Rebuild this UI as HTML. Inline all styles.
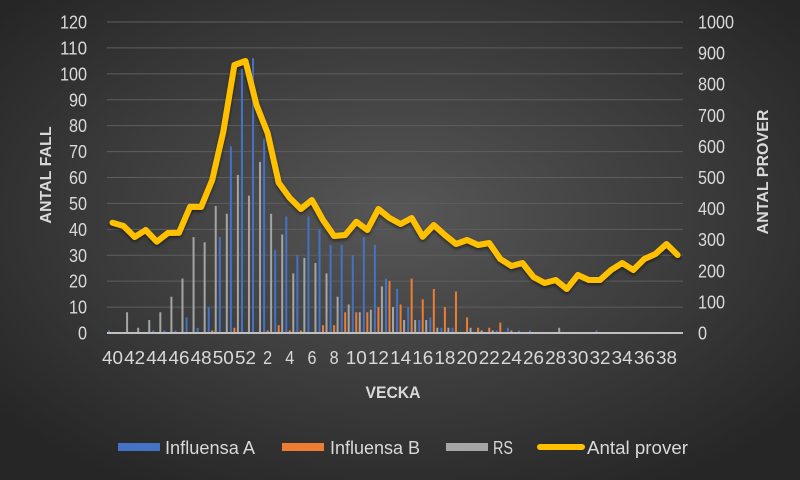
<!DOCTYPE html>
<html><head><meta charset="utf-8"><style>
html,body{margin:0;padding:0;background:#333}
svg{display:block}
text{font-family:"Liberation Sans",sans-serif;fill:#d9d9d9}
</style></head><body>
<svg id="c" width="800" height="480" xmlns="http://www.w3.org/2000/svg">
<defs>
<radialGradient id="bg" cx="50%" cy="45%" r="65%">
<stop offset="0" stop-color="#575757"/><stop offset="1" stop-color="#262626"/>
</radialGradient>
<filter id="sh" x="-5%" y="-5%" width="110%" height="120%"><feDropShadow dx="0" dy="2" stdDeviation="1.5" flood-color="#000" flood-opacity="0.5"/></filter>
</defs>
<rect width="800" height="480" fill="url(#bg)"/>
<g id="g"></g>
</svg>
<script>
var g=document.getElementById('g'),s='';
var y0=333,L=107,R=683;
function yl(v){return y0-v*311/120}
function yr(v){return y0-v*311/1000}
function tl(n){return n.length*9}
for(var v=0;v<=120;v+=10){var y=yl(v);if(v>0)s+='<line x1="'+L+'" x2="'+R+'" y1="'+y+'" y2="'+y+'" stroke="#5e5e5e" stroke-width="1"/>';
s+='<text x="87" y="'+(y+6.5)+'" font-size="18" text-anchor="end" textLength="'+tl(''+v)+'" lengthAdjust="spacingAndGlyphs">'+v+'</text>';}
for(var v=0;v<=1000;v+=100){var y=yr(v);s+='<text x="698" y="'+(y+6.5)+'" font-size="18" textLength="'+tl(''+v)+'" lengthAdjust="spacingAndGlyphs">'+v+'</text>';}
var A=[1,0,0,0,1,1,1,6,2,10,37,72,102,106,75,32,45,30,45,40,34,34,30,37,34,21,17,10,5,6,2,2,0,0,0,1,2,1,1,0,0,0,0,0,1,0,0,0,0,0,0,0];
var B=[0,0,0,0,0,0,0,0,0,1,0,2,0,0,1,3,1,1,0,3,3,8,8,8,10,20,11,21,13,17,10,16,6,2,2,4,1,0,0,0,0,0,0,0,0,0,0,0,0,0,0,0];
var C=[0,8,2,5,8,14,21,37,35,49,46,61,53,66,46,38,23,29,27,23,14,11,8,9,18,10,5,5,5,2,2,0,2,1,1,0,0,0,0,0,2,0,0,0,0,0,0,0,0,0,0,0];
var P=[222.7,226,237,230,241.7,233,232.7,206.7,207,180,131.7,65,61,105,133,182.7,198,209,200,220,236,235,221.7,230,209,218,224,218,236.7,225,235,244,240,245,243,259,266,263,277,283,280,289,275,280,280,270,263,270,259,254,244,255];
var st=11.08,c0=112.5,pts=[];
for(var i=0;i<52;i++){var c=c0+i*st;
[[A,-4.5,'#4472C4'],[B,-1,'#ED7D31'],[C,2.5,'#A5A5A5']].forEach(function(d){var v=d[0][i];if(v>0){var y=yl(v);s+='<rect x="'+(c+d[1])+'" y="'+y+'" width="2" height="'+(y0-y)+'" fill="'+d[2]+'"/>';}});
pts.push(c.toFixed(1)+','+P[i]);
var lab=null;
if(i<=12&&i%2==0)lab=''+(40+i);else if(i>12&&(i-12)%2==0)lab=''+(i-12);
if(lab){var w=lab.length==2?21:9;s+='<text x="'+c+'" y="364" font-size="18" text-anchor="middle" textLength="'+w+'" lengthAdjust="spacingAndGlyphs">'+lab+'</text>';}
}
s+='<line x1="'+L+'" x2="'+R+'" y1="'+y0+'" y2="'+y0+'" stroke="#bfbfbf" stroke-width="2"/>';
s+='<polyline points="'+pts.join(' ')+'" fill="none" stroke="#FFC000" stroke-width="6" stroke-linejoin="round" stroke-linecap="round" filter="url(#sh)"/>';
s+='<text x="393" y="398" font-size="17" font-weight="bold" text-anchor="middle" textLength="55" lengthAdjust="spacingAndGlyphs">VECKA</text>';
s+='<text transform="translate(51,175) rotate(-90)" font-size="16" font-weight="bold" text-anchor="middle">ANTAL FALL</text>';
s+='<text transform="translate(768,172) rotate(-90)" font-size="16" font-weight="bold" text-anchor="middle">ANTAL PROVER</text>';
s+='<rect x="118" y="443" width="42" height="8" fill="#4472C4"/><text x="165" y="454" font-size="18" textLength="90" lengthAdjust="spacingAndGlyphs">Influensa A</text>';
s+='<rect x="282" y="443" width="42" height="8" fill="#ED7D31"/><text x="330" y="454" font-size="18" textLength="90" lengthAdjust="spacingAndGlyphs">Influensa B</text>';
s+='<rect x="446" y="443" width="42" height="8" fill="#A5A5A5"/><text x="493" y="454" font-size="18" textLength="20" lengthAdjust="spacingAndGlyphs">RS</text>';
s+='<line x1="540" x2="582" y1="447" y2="447" stroke="#FFC000" stroke-width="6" stroke-linecap="round"/><text x="587" y="454" font-size="18" textLength="101" lengthAdjust="spacingAndGlyphs">Antal prover</text>';
g.innerHTML=s;
</script>
</body></html>
